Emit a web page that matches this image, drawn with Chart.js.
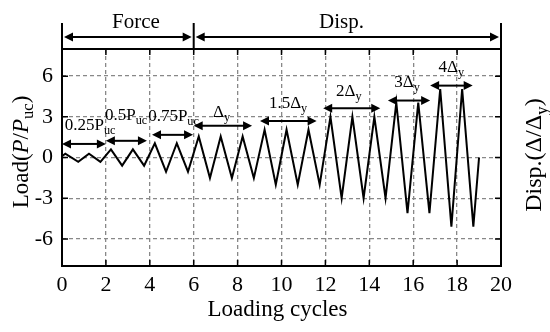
<!DOCTYPE html>
<html>
<head>
<meta charset="utf-8">
<script src="https://cdn.jsdelivr.net/npm/chart.js@4.4.0/dist/chart.umd.min.js"></script>
<style>
    html, body { margin: 0; padding: 0; background: #fff; }
</style>
</head>
<body>
<canvas id="loadChart" width="550" height="332"></canvas>
<script>
// loading history (cycle number vs normalised load)
const cycleX = [0, 0.15, 0.74, 1.23, 1.75, 2.23, 2.74, 3.23, 3.74, 4.23, 4.74, 5.23, 5.74,
    6.23, 6.74, 7.23, 7.74, 8.23, 8.74, 9.23, 9.74, 10.23, 10.74, 11.23, 11.74,
    12.23, 12.74, 13.23, 13.74, 14.23, 14.74, 15.23, 15.74, 16.23, 16.74,
    17.23, 17.74, 18.23, 18.74, 19];
const loadY = [0.1, 0.28, -0.32, 0.28, -0.32, 0.6, -0.6, 0.6, -0.6, 1.05, -1.05, 1.05, -1.05,
    1.55, -1.52, 1.55, -1.52, 1.55, -1.52, 2.05, -2.0, 2.05, -2.0, 2.05, -2.0,
    3.0, -3.0, 3.0, -3.0, 3.0, -3.0, 4.05, -4.1, 4.05, -4.1,
    5.05, -5.1, 5.05, -5.1, 0];

const xTicks = [0, 2, 4, 6, 8, 10, 12, 14, 16, 18, 20];
const yTicks = [-6, -3, 0, 3, 6];

// loading steps: double arrow span (cycles), arrow level (load) and label
const stepFrom = [0, 2, 4.1, 6, 9.02, 11.9, 14.85, 16.77];
const stepTo = [2, 3.87, 5.97, 8.66, 11.6, 14.5, 16.77, 18.71];
const stepLevel = [1.0, 1.23, 1.67, 2.34, 2.7, 3.64, 4.2, 5.3];
const stepLabel = ['0.25P', '0.5P', '0.75P', 'Δ', '1.5Δ', '2Δ', '3Δ', '4Δ'];
const stepSub = ['uc', 'uc', 'uc', 'y', 'y', 'y', 'y', 'y'];
const labelX = [1.28, 2.92, 5.08, 7.27, 10.3, 13.07, 15.72, 17.74];
const labelY = [2.34, 3.07, 3.0, 3.29, 3.96, 4.84, 5.5, 6.6];

// control phases above the plot
const phaseName = ['Force', 'Disp.'];
const phaseFrom = [0, 6];
const phaseTo = [6, 20];
const phaseTextX = [3.37, 12.73];

const serif = '"Liberation Serif", "Times New Roman", serif';

function drawParts(ctx, parts, cx, cy, size) {
    // parts: [text, style] where style is '' | 'i' | 's'
    let total = 0;
    parts.forEach(p => {
        ctx.font = (p[1] === 'i' ? 'italic ' : '') + (p[1] === 's' ? size * 0.72 : size) + 'px ' + serif;
        total += ctx.measureText(p[0]).width;
    });
    let x = cx - total / 2;
    ctx.textBaseline = 'middle';
    ctx.textAlign = 'left';
    parts.forEach(p => {
        const sub = p[1] === 's';
        ctx.font = (p[1] === 'i' ? 'italic ' : '') + (sub ? size * 0.72 : size) + 'px ' + serif;
        ctx.fillText(p[0], x, sub ? cy + size * 0.3 : cy);
        x += ctx.measureText(p[0]).width;
    });
}

function drawArrow(ctx, x1, x2, y, left, right) {
    const head = 9, half = 4.5;
    ctx.beginPath();
    ctx.moveTo(x1 + (left ? head - 1 : 0), y);
    ctx.lineTo(x2 - (right ? head - 1 : 0), y);
    ctx.stroke();
    if (left) {
        ctx.beginPath();
        ctx.moveTo(x1, y);
        ctx.lineTo(x1 + head, y - half);
        ctx.lineTo(x1 + head, y + half);
        ctx.closePath();
        ctx.fill();
    }
    if (right) {
        ctx.beginPath();
        ctx.moveTo(x2, y);
        ctx.lineTo(x2 - head, y - half);
        ctx.lineTo(x2 - head, y + half);
        ctx.closePath();
        ctx.fill();
    }
}

const decorPlugin = {
    id: 'decor',
    afterDatasetsDraw(chart) {
        const ctx = chart.ctx;
        const area = chart.chartArea;
        const xs = chart.scales.x;
        const ys = chart.scales.y;
        ctx.save();
        ctx.fillStyle = '#000';
        ctx.strokeStyle = '#000';

        // frame and inward tick marks
        ctx.lineWidth = 2;
        ctx.strokeRect(area.left, area.top, area.right - area.left, area.bottom - area.top);
        ctx.lineWidth = 1.5;
        ctx.beginPath();
        xTicks.forEach(v => {
            const px = xs.getPixelForValue(v);
            ctx.moveTo(px, area.top); ctx.lineTo(px, area.top + 6);
            ctx.moveTo(px, area.bottom); ctx.lineTo(px, area.bottom - 6);
        });
        yTicks.forEach(v => {
            const py = ys.getPixelForValue(v);
            ctx.moveTo(area.left, py); ctx.lineTo(area.left + 6, py);
            ctx.moveTo(area.right, py); ctx.lineTo(area.right - 6, py);
        });
        ctx.stroke();

        // loading step arrows and labels
        ctx.lineWidth = 2;
        stepLabel.forEach((lab, i) => {
            const y = ys.getPixelForValue(stepLevel[i]);
            drawArrow(ctx, xs.getPixelForValue(stepFrom[i]), xs.getPixelForValue(stepTo[i]), y, true, true);
            drawParts(ctx, [[lab, ''], [stepSub[i], 's']],
                xs.getPixelForValue(labelX[i]), ys.getPixelForValue(labelY[i]), 17);
        });

        // phase brackets above the plot
        const arrowY = area.top - 12;
        ctx.lineWidth = 2;
        ctx.beginPath();
        [phaseFrom[0], phaseTo[0], phaseTo[1]].forEach(v => {
            const px = xs.getPixelForValue(v);
            ctx.moveTo(px, area.top - 26);
            ctx.lineTo(px, area.top);
        });
        ctx.stroke();
        phaseName.forEach((name, i) => {
            const a = xs.getPixelForValue(phaseFrom[i]) + 2;
            const b = xs.getPixelForValue(phaseTo[i]) - 2;
            drawArrow(ctx, a, b, arrowY, true, true);
            drawParts(ctx, [[name, '']], xs.getPixelForValue(phaseTextX[i]), area.top - 27, 21);
        });

        // axis titles
        drawParts(ctx, [['Loading cycles', '']], (area.left + area.right) / 2 + 57 - 62 + 1, 310, 23);

        ctx.save();
        ctx.translate(22, 152);
        ctx.rotate(-Math.PI / 2);
        drawParts(ctx, [['Load(', ''], ['P', 'i'], ['/', ''], ['P', 'i'], ['uc', 's'], [')', '']], 0, 0, 23);
        ctx.restore();

        ctx.save();
        ctx.translate(535, 155);
        ctx.rotate(-Math.PI / 2);
        drawParts(ctx, [['Disp.(Δ/Δ', ''], ['y', 's'], [')', '']], 0, 0, 24);
        ctx.restore();

        ctx.restore();
    }
};

const ctx = document.getElementById('loadChart').getContext('2d');
const loadChart = new Chart(ctx, {
    type: 'line',
    data: {
        datasets: [{
            data: cycleX.map((x, i) => ({ x: x, y: loadY[i] })),
            borderColor: '#000',
            borderWidth: 2,
            pointRadius: 0,
            tension: 0,
            fill: false
        }]
    },
    options: {
        responsive: false,
        animation: false,
        devicePixelRatio: 1,
        layout: { padding: { top: 49, right: 49, left: 0, bottom: 0 } },
        plugins: {
            legend: { display: false },
            tooltip: { enabled: false }
        },
        scales: {
            x: {
                type: 'linear',
                min: 0,
                max: 20,
                afterBuildTicks: s => { s.ticks = xTicks.map(v => ({ value: v })); },
                afterFit: s => { s.height = 66; },
                ticks: {
                    color: '#000',
                    padding: 6,
                    maxRotation: 0,
                    font: { family: serif, size: 22 }
                },
                grid: { color: '#888', lineWidth: 1.3, drawTicks: false },
                border: { display: false, dash: [4, 3] }
            },
            y: {
                min: -8,
                max: 8,
                afterBuildTicks: s => { s.ticks = yTicks.map(v => ({ value: v })); },
                afterFit: s => { s.width = 62; },
                ticks: {
                    color: '#000',
                    padding: 9,
                    font: { family: serif, size: 22 }
                },
                grid: { color: '#888', lineWidth: 1.3, drawTicks: false },
                border: { display: false, dash: [4, 3] }
            }
        }
    },
    plugins: [decorPlugin]
});
</script>
</body>
</html>
